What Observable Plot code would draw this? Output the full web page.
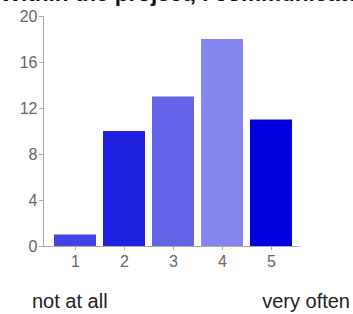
<!DOCTYPE html>
<html>
<head>
<meta charset="utf-8">
<script src="https://cdn.jsdelivr.net/npm/d3@7"></script>
<script src="https://cdn.jsdelivr.net/npm/@observablehq/plot@0.6"></script>
<style>
  html, body { margin: 0; padding: 0; background: #fff; overflow: hidden; }
  #wrap { position: relative; width: 353px; height: 314px; overflow: hidden; font-family: "Liberation Sans", Arial, sans-serif; }
  #title { position: absolute; left: 0; top: -17px; font-weight: bold; font-size: 22.5px; line-height: 22px; color: #111; white-space: nowrap; }
  #chart { position: absolute; left: 0; top: 0; }
  .foot { position: absolute; top: 291px; font-size: 20px; line-height: 20px; color: #222; white-space: nowrap; }
  #lo { left: 32px; }
  #hi { right: 3px; }
  #chart svg line, #chart svg path { stroke: #aaa; }
</style>
</head>
<body>
<div id="wrap">
  <div id="title">Within the project, I communicate with others</div>
  <div id="chart"></div>
  <div class="foot" id="lo">not at all</div>
  <div class="foot" id="hi">very often</div>
</div>
<script>
const categories = ["1", "2", "3", "4", "5"];
const counts = [1, 10, 13, 18, 11];
const barColors = ["#4343e6", "#2121e0", "#6464e9", "#8585ef", "#0000df"];
const yTicks = [0, 4, 8, 12, 16, 20];

const data = categories.map((c, i) => ({cat: c, count: counts[i]}));

const chart = Plot.plot({
  width: 353,
  height: 280,
  marginTop: 16,
  marginBottom: 34,
  marginLeft: 43,
  marginRight: 55,
  style: {fontFamily: "'Liberation Sans', Arial, sans-serif", fontSize: "16px", color: "#666", background: "transparent", overflow: "visible"},
  x: {domain: categories, paddingInner: 0.15, paddingOuter: 0.15, align: 0.62, label: null, tickSize: 4, line: true},
  y: {domain: [0, 20], ticks: yTicks, tickSize: 4, tickPadding: 2, line: true, label: null},
  color: {domain: categories, range: barColors},
  marks: [
    Plot.barY(data, {x: "cat", y: "count", fill: "cat", inset: 0})
  ]
});
document.getElementById("chart").appendChild(chart);
</script>
</body>
</html>
